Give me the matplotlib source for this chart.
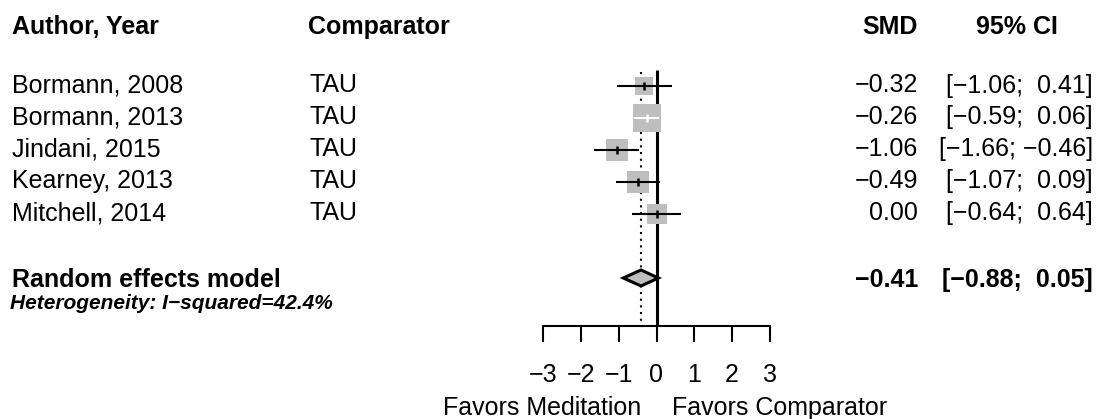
import numpy as np
import matplotlib.pyplot as plt
from matplotlib.patches import Polygon
from matplotlib.transforms import blended_transform_factory

plt.rcParams['font.family'] = ['Liberation Sans', 'DejaVu Sans']

# study level data
studies = ['Bormann, 2008', 'Bormann, 2013', 'Jindani, 2015', 'Kearney, 2013', 'Mitchell, 2014']
comparators = ['TAU', 'TAU', 'TAU', 'TAU', 'TAU']
smd = [-0.32, -0.26, -1.06, -0.49, 0.00]
ci_low = [-1.06, -0.59, -1.66, -1.07, -0.64]
ci_high = [0.41, 0.06, -0.46, 0.09, 0.64]
weights = [14.0, 29.4, 20.0, 19.5, 17.1]   # % weight (random effects)

# pooled estimate
re_smd = -0.41
re_low = -0.88
re_high = 0.05
i_squared = 42.4

ticks = [-3, -2, -1, 0, 1, 2, 3]
label_left = 'Favors Meditation'
label_right = 'Favors Comparator'


def fmt(v, width=0):
    return f'{v:{width}.2f}'.replace('-', '\u2212')


W, H = 1102, 419
fig = plt.figure(figsize=(W / 100, H / 100), dpi=100)
ax = fig.add_axes([0, 0, 1, 1])
x0, unit = 656.5, 37.7          # pixel position of 0 and pixels per SMD unit
ax.set_xlim(-x0 / unit, (W - x0) / unit)
ax.set_ylim(H, 0)
tr = blended_transform_factory(ax.transAxes, ax.transData)

fs = 18
grey = '#BEBEBE'
row_y = 86.5 + 31.9 * np.arange(len(studies))
axis_y = 326
sum_y = 278

# header
ax.text(12 / W, 34, 'Author, Year', transform=tr, fontsize=fs, fontweight='bold', va='baseline')
ax.text(308 / W, 34, 'Comparator', transform=tr, fontsize=fs, fontweight='bold', va='baseline')
ax.text(918 / W, 34, 'SMD', transform=tr, fontsize=fs, fontweight='bold', va='baseline', ha='right')
ax.text(1017 / W, 34, '95% CI', transform=tr, fontsize=fs, fontweight='bold', va='baseline', ha='center')

# reference lines
ax.plot([0, 0], [70, axis_y], color='black', lw=2.2, solid_capstyle='butt', zorder=1)
ax.plot([re_smd, re_smd], [72, axis_y], color='black', lw=1.5,
        linestyle=(0, (1, 2.2)), dash_capstyle='butt', zorder=1)

# studies
max_w = max(weights)
for i in range(len(studies)):
    y = row_y[i]
    side = 27.5 * np.sqrt(weights[i] / max_w)   # box side in px
    ax.plot(smd[i], y, marker='s', ms=side * 0.72, color=grey, mew=0, zorder=2)
    col = 'white' if (ci_high[i] - ci_low[i]) * unit < side else 'black'
    ax.plot([ci_low[i], ci_high[i]], [y, y], color=col, lw=1.5, solid_capstyle='butt', zorder=3)
    ax.plot(smd[i], y, marker='|', ms=6, mew=1.8, color=col, zorder=4)

    yb = y + 6
    ax.text(12 / W, yb, studies[i], transform=tr, fontsize=fs, va='baseline')
    ax.text(310 / W, yb, comparators[i], transform=tr, fontsize=fs, va='baseline')
    ax.text(918 / W, yb, fmt(smd[i]), transform=tr, fontsize=fs, va='baseline', ha='right')
    ax.text(1093 / W, yb, f'[{fmt(ci_low[i])}; {fmt(ci_high[i], 5)}]', transform=tr,
            fontsize=fs, va='baseline', ha='right')

# pooled diamond
dia = Polygon([(re_low, sum_y), (re_smd, sum_y - 8), (re_high, sum_y), (re_smd, sum_y + 8)],
              closed=True, facecolor=grey, edgecolor='black', lw=2.2, zorder=5)
ax.add_patch(dia)
ax.text(12 / W, 287, 'Random effects model', transform=tr, fontsize=fs, fontweight='bold', va='baseline')
ax.text(918 / W, 287, fmt(re_smd), transform=tr, fontsize=fs, fontweight='bold', va='baseline', ha='right')
ax.text(1093 / W, 287, f'[{fmt(re_low)}; {fmt(re_high, 5)}]', transform=tr,
        fontsize=fs, fontweight='bold', va='baseline', ha='right')
ax.text(10 / W, 309, f'Heterogeneity: I\u2212squared={i_squared}%', transform=tr,
        fontsize=15, fontweight='bold', fontstyle='italic', va='baseline')

# x axis
for s in ['top', 'left', 'right']:
    ax.spines[s].set_visible(False)
ax.spines['bottom'].set_position(('data', axis_y))
ax.spines['bottom'].set_bounds(ticks[0], ticks[-1])
ax.spines['bottom'].set_linewidth(1.5)
ax.set_xticks(ticks)
ax.set_xticklabels([fmt(t, 0).split('.')[0] for t in ticks])
ax.tick_params(axis='x', direction='out', length=11.5, width=1.5, labelsize=fs, pad=15)
ax.set_yticks([])
ax.set_facecolor('white')

ax.text((x0 - 15) / W, 415, label_left, transform=tr, fontsize=fs, va='baseline', ha='right')
ax.text((x0 + 15) / W, 415, label_right, transform=tr, fontsize=fs, va='baseline', ha='left')

fig.savefig('out.png', dpi=100, facecolor='white')
